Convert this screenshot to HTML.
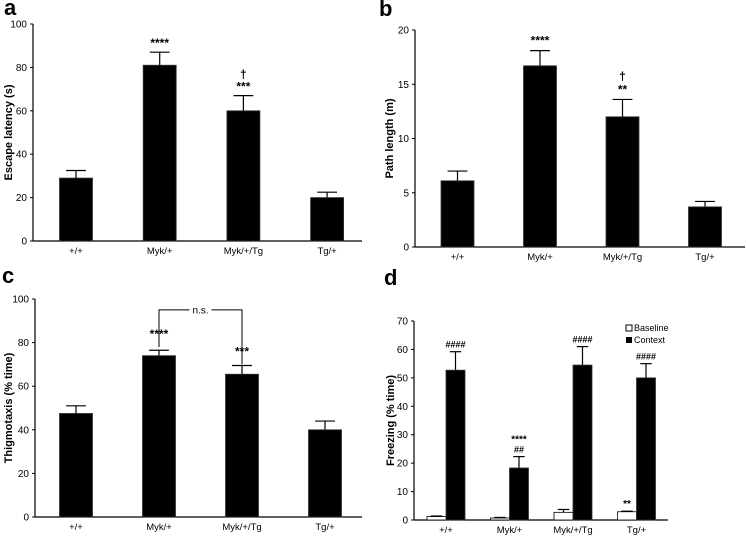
<!DOCTYPE html>
<html><head><meta charset="utf-8"><style>
body{margin:0;background:#fff;}
svg{display:block;font-family:"Liberation Sans",Arial,sans-serif;}
</style></head><body>
<svg id="fig" width="746" height="536" viewBox="0 0 746 536" xmlns="http://www.w3.org/2000/svg"></svg>
<script>
const categories = ["+/+","Myk/+","Myk/+/Tg","Tg/+"];
const escapeLatency = [29,81,60,20];
const escapeLatencyErr = [3.5,6,7,2.5];
const pathLength = [6.1,16.7,12.0,3.7];
const pathLengthErr = [0.9,1.4,1.6,0.5];
const thigmotaxis = [47.5,74,65.5,40];
const thigmotaxisErr = [3.5,2.5,4,4];
const freezeBaseline = [1.2,0.7,2.7,2.9];
const freezeBaselineErr = [0.2,0.2,1.0,0.2];
const freezeContext = [52.7,18.3,54.5,50];
const freezeContextErr = [6.5,4,6.5,5];
const ticksA = [0,20,40,60,80,100];
const ticksB = [0,5,10,15,20];
const ticksC = [0,20,40,60,80,100];
const ticksD = [0,10,20,30,40,50,60,70];

const svg = document.getElementById('fig');
const NS = 'http://www.w3.org/2000/svg';
function mk(tag, attrs, parent, text){
  const e = document.createElementNS(NS, tag);
  for (const k in attrs) e.setAttribute(k, attrs[k]);
  if (text !== undefined) e.textContent = text;
  (parent||svg).appendChild(e);
  return e;
}
function panel(cfg){
  const g = mk('g', {});
  
  
  const y = v => cfg.y0 - (v - 0) / cfg.max * (cfg.y0 - cfg.yTop);
  const x = i => cfg.c0 + i * cfg.step;
  const lt = mk('text', {x:cfg.letterX, y:cfg.letterY, 'font-size':22, 'font-weight':'bold'}, g, cfg.letter);
  
  
  const ax = mk('line', {x1:cfg.ax, y1:cfg.yTop, x2:cfg.ax, y2:cfg.y0, stroke:'#000', 'stroke-width':1.2}, g);
  
  
  const bx = mk('line', {x1:cfg.ax, y1:cfg.y0, x2:cfg.xEnd, y2:cfg.y0, stroke:'#000', 'stroke-width':1.2}, g);
  
  
  cfg.ticks.forEach(t => {
    mk('line', {x1:cfg.ax-3, y1:y(t), x2:cfg.ax, y2:y(t), stroke:'#000'}, g);
    const tl = mk('text', {x:cfg.ax-6, y:y(t)+3.5, 'font-size':10, 'text-anchor':'end', fill:'#000'}, g, t);
    
    
  });
  const tt = mk('text', {transform:`translate(${cfg.titleX},${(cfg.yTop+cfg.y0)/2}) rotate(-90)`, 'font-size':11, 'font-weight':'bold', 'text-anchor':'middle'}, g, cfg.title);
  
  
  categories.forEach((c, i) => {
    const cl = mk('text', {x:x(i), y:cfg.y0+13, 'font-size':9.5, 'text-anchor':'middle', fill:'#000'}, g, c);
    
    
  });
  cfg.series.forEach(s => {
    s.vals.forEach((v, i) => {
      const cx = x(i) + s.off;
      const top = y(v + s.err[i]);
      mk('line', {x1:cx, y1:y(v), x2:cx, y2:top, stroke:'#000', 'stroke-width':1.2}, g);
      mk('line', {x1:cx-s.w*0.3, y1:top, x2:cx+s.w*0.3, y2:top, stroke:'#000', 'stroke-width':1.2}, g);
      const b = mk('rect', {x:cx-s.w/2, y:y(v), width:s.w, height:cfg.y0-y(v), fill:s.fill, stroke:s.fill==='#fff'?'#000':'#333', 'stroke-width':0.8}, g);
      
      
    });
  });
  (cfg.ann||[]).forEach(a => {
    const at = mk('text', {x:x(a.i)+(a.off||0), y:y(a.v)-a.dy, 'font-size':a.fs||12, 'font-weight':'bold', 'text-anchor':'middle'}, g, a.t);
    
    
  });
  return {g, x, y};
}
const A = panel({letter:'a', letterX:4, letterY:15, ax:33, xEnd:362, yTop:24, y0:241, max:100, ticks:ticksA, c0:76, step:83.7, titleX:12, title:'Escape latency (s)',
  series:[{name:'escape-latency', vals:escapeLatency, err:escapeLatencyErr, w:33, off:0, fill:'#000'}],
  ann:[{i:1,v:87,dy:5,t:'****'},{i:2,v:67,dy:5,t:'***'},{i:2,v:67,dy:17,t:'†'}]});
const B = panel({letter:'b', letterX:379, letterY:16, ax:415, xEnd:745, yTop:30, y0:247, max:20, ticks:ticksB, c0:457.5, step:82.5, titleX:393, title:'Path length (m)',
  series:[{name:'path-length', vals:pathLength, err:pathLengthErr, w:33, off:0, fill:'#000'}],
  ann:[{i:1,v:18.1,dy:6,t:'****'},{i:2,v:13.6,dy:6,t:'**'},{i:2,v:13.6,dy:19,t:'†'}]});
const C = panel({letter:'c', letterX:2, letterY:283, ax:35, xEnd:362, yTop:299, y0:517, max:100, ticks:ticksC, c0:76, step:83, titleX:12, title:'Thigmotaxis (% time)',
  series:[{name:'thigmotaxis', vals:thigmotaxis, err:thigmotaxisErr, w:33, off:0, fill:'#000'}],
  ann:[{i:1,v:76.5,dy:12,t:'****'},{i:2,v:69.5,dy:10,t:'***'}]});
const br = mk('path', {d:`M${C.x(1)} ${C.y(78)} V${C.y(95)} H${C.x(2)} V${C.y(70)}`, fill:'none', stroke:'#000', 'stroke-width':1}, C.g);


mk('rect', {x:(C.x(1)+C.x(2))/2-11, y:C.y(95)-5, width:22, height:10, fill:'#fff'}, C.g);
const nst = mk('text', {x:(C.x(1)+C.x(2))/2, y:C.y(95)+3.5, 'font-size':10, 'text-anchor':'middle'}, C.g, 'n.s.');


const D = panel({letter:'d', letterX:384, letterY:285, ax:414, xEnd:668, yTop:321, y0:520, max:70, ticks:ticksD, c0:446, step:63.5, titleX:394, title:'Freezing (% time)',
  series:[{name:'baseline', vals:freezeBaseline, err:freezeBaselineErr, w:19, off:-9.5, fill:'#fff'},
          {name:'context', vals:freezeContext, err:freezeContextErr, w:19, off:9.5, fill:'#000'}],
  ann:[{i:0,v:59.2,off:9.5,dy:4,t:'####',fs:9},{i:1,v:22.3,off:9.5,dy:4,t:'##',fs:9},{i:1,v:22.3,off:9.5,dy:14,t:'****',fs:10},
       {i:2,v:61,off:9.5,dy:4,t:'####',fs:9},{i:3,v:55,off:9.5,dy:4,t:'####',fs:9},{i:3,v:3.1,off:-9.5,dy:4,t:'**',fs:10}]});
const lg = mk('g', {}, D.g);


mk('rect', {x:626, y:325, width:6, height:6, fill:'#fff', stroke:'#000'}, lg);
const l1 = mk('text', {x:634, y:331, 'font-size':9}, lg, 'Baseline');


mk('rect', {x:626, y:337, width:6, height:6, fill:'#000'}, lg);
const l2 = mk('text', {x:634, y:343, 'font-size':9}, lg, 'Context');


</script>
</body></html>
